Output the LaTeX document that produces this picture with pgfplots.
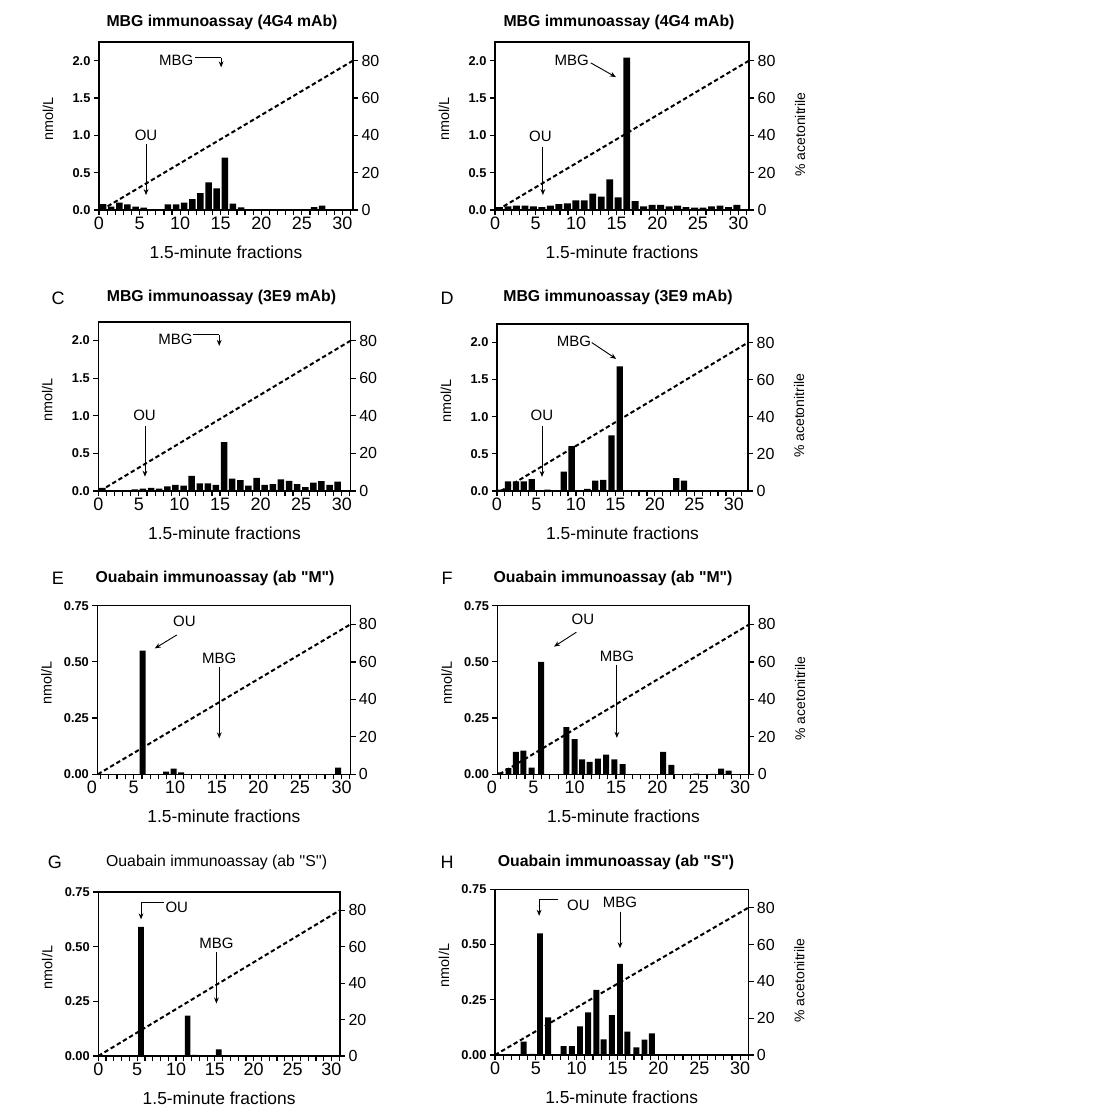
\documentclass[border=0pt]{standalone}
\usepackage{fontspec}
\setmainfont{Liberation Sans}
\newfontfamily\qfont{Liberation Sans}
\usepackage{pgfplots}
\pgfplotsset{compat=1.18}
\usetikzlibrary{arrows.meta}
\newcommand{\fs}[1]{\fontsize{#1}{#1}\selectfont}
\pgfplotsset{
  common/.style={scale only axis, clip=false,
     axis line style={line width=0.75pt, black},
     tick style={line width=0.6pt, black},
     /pgf/number format/assume math mode=true},
  leftax/.style={common, ymin=0,
     xtick={0,5,...,30}, minor xtick={0,1,...,31},
     xtick pos=bottom, ytick pos=left, tick align=outside,
     major tick length=2.6pt, minor tick length=2.6pt,
     xticklabel style={font=\fs{9}, inner sep=0.6pt},
     yticklabel style={font=\fs{6.4}\bfseries, inner sep=1.5pt},
     xlabel={1.5-minute fractions}, ylabel={nmol/L},
     xlabel style={font=\fs{8.7}, at={(axis description cs:0.5,0)}, anchor=center, yshift=-21pt},
     ylabel style={font=\fs{7.2}, at={(axis description cs:0,0.54)}, anchor=center, yshift=25.5pt},
  },
  topax/.style={leftax, ymax=2.25, ytick={0,0.5,1,1.5,2},
     yticklabel style={/pgf/number format/fixed, /pgf/number format/fixed zerofill, /pgf/number format/precision=1}},
  botax/.style={leftax, ymax=0.75, ytick={0,0.25,0.5,0.75},
     yticklabel style={/pgf/number format/fixed, /pgf/number format/fixed zerofill, /pgf/number format/precision=2}},
  rightax/.style={common, ymin=0, ymax=90, axis x line=none, axis y line*=right,
     ytick={0,20,40,60,80}, ytick pos=right, yticklabel pos=right, tick align=outside,
     major tick length=2.6pt,
     yticklabel style={font=\fs{8}, inner sep=1.5pt},
     ylabel style={font=\fs{7}, at={(axis description cs:1,0.45)}, anchor=center, yshift=-25.5pt},
  },
  pos/.style n args={4}{at={(#1pt,#2pt)}, anchor=south west, width=#3pt, height=#4pt},
  bars/.style={ybar, bar width=#1, fill=black, draw=none},
  acn/.style={black, line width=1pt, dash pattern=on 2.2pt off 1.4pt},
}
\tikzset{annot/.style={font=\fs{7.5}, inner sep=0pt}, ttl/.style={font=\fs{7.9}\bfseries}, lett/.style={font=\fs{9}},
  ann/.style={line width=0.45pt, black},
  arr/.style={line width=0.45pt, black, -{Stealth[length=3pt,width=2.4pt]}},
  zerolab/.style={font=\fs{9}, anchor=north, inner sep=0.6pt}}
\begin{document}
\begin{tikzpicture}
\useasboundingbox (0,0) rectangle (550pt,559.5pt);

% ---------- Panel A ----------
\begin{axis}[topax, pos={49.5}{454.5}{127}{84}, xmin=0, xmax=31.3]
\addplot[bars=0.8] coordinates {(0.5,0.08)(1.5,0.045)(2.5,0.10)(3.5,0.075)(4.5,0.045)(5.5,0.03)(8.5,0.075)(9.5,0.075)(10.5,0.10)(11.5,0.145)(12.5,0.225)(13.5,0.37)(14.5,0.29)(15.5,0.70)(16.5,0.085)(17.5,0.035)(26.5,0.04)(27.5,0.06)(29.5,0.01)};
\node[annot] at (axis cs:9.5,2.0) {MBG};
\draw[ann] (axis cs:11.8,2.04) -- (axis cs:15.05,2.04);
\draw[arr] (axis cs:15.05,2.04) -- (axis cs:15.05,1.91);
\node[annot] at (axis cs:5.8,1.0) {OU};
\draw[arr] (axis cs:5.8,0.88) -- (axis cs:5.8,0.2);
\end{axis}
\begin{axis}[rightax, pos={49.5}{454.5}{127}{84}, xmin=0, xmax=31.3]
\addplot[acn] coordinates {(0.3,0) (31.3,80)};
\end{axis}
\node[ttl] at (111pt,548.5pt) {MBG immunoassay (4G4 mAb)};

% ---------- Panel B ----------
\begin{axis}[topax, pos={247.5}{454.5}{127}{84}, xmin=0, xmax=31.3]
\addplot[bars=0.85] coordinates {(0.55,0.04)(1.60,0.05)(2.64,0.06)(3.69,0.06)(4.73,0.05)(5.78,0.04)(6.82,0.06)(7.87,0.08)(8.91,0.09)(9.96,0.13)(11.00,0.13)(12.05,0.22)(13.09,0.18)(14.14,0.41)(15.18,0.17)(16.23,2.04)(17.27,0.12)(18.32,0.05)(19.36,0.07)(20.41,0.07)(21.45,0.05)(22.50,0.06)(23.54,0.04)(24.59,0.03)(25.63,0.03)(26.68,0.05)(27.72,0.06)(28.77,0.04)(29.81,0.07)};
\node[annot] at (axis cs:9.45,2.0) {MBG};
\draw[arr] (axis cs:11.8,1.97) -- (axis cs:14.9,1.78);
\node[annot] at (axis cs:5.6,0.98) {OU};
\draw[arr] (axis cs:5.9,0.85) -- (axis cs:5.9,0.2);
\end{axis}
\begin{axis}[rightax, pos={247.5}{454.5}{127}{84}, xmin=0, xmax=31.3, ylabel={\% acetonitrile}]
\addplot[acn] coordinates {(0.3,0) (31.3,80)};
\end{axis}
\node[ttl] at (309.5pt,548.5pt) {MBG immunoassay (4G4 mAb)};

% ---------- Panel C ----------
\begin{axis}[topax, pos={49.15}{314}{126.2}{84.6}, xmin=0, xmax=31.1]
\addplot[bars=0.8] coordinates {(0.5,0.04)(4.5,0.02)(5.5,0.03)(6.5,0.04)(7.5,0.03)(8.5,0.06)(9.5,0.08)(10.5,0.07)(11.5,0.20)(12.5,0.10)(13.5,0.10)(14.5,0.08)(15.5,0.65)(16.5,0.165)(17.5,0.145)(18.5,0.07)(19.5,0.175)(20.5,0.08)(21.5,0.09)(22.5,0.155)(23.5,0.135)(24.5,0.09)(25.5,0.05)(26.5,0.11)(27.5,0.13)(28.5,0.08)(29.5,0.125)};
\node[annot] at (axis cs:9.5,2.01) {MBG};
\draw[ann] (axis cs:11.7,2.08) -- (axis cs:14.9,2.08);
\draw[arr] (axis cs:14.9,2.08) -- (axis cs:14.9,1.93);
\node[annot] at (axis cs:5.7,1.01) {OU};
\draw[arr] (axis cs:5.75,0.86) -- (axis cs:5.75,0.19);
\end{axis}
\begin{axis}[rightax, pos={49.15}{314}{126.2}{84.6}, xmin=0, xmax=31.1]
\addplot[acn] coordinates {(0.2,0) (31.1,80)};
\end{axis}
\node[lett] at (29pt,410.5pt) {C};
\node[ttl] at (110.75pt,411pt) {MBG immunoassay (3E9 mAb)};

% ---------- Panel D ----------
\begin{axis}[topax, pos={248.5}{314}{125.5}{83.5}, xmin=0, xmax=31.8]
\addplot[bars=0.8] coordinates {(0.35,0.02)(1.4,0.13)(2.4,0.13)(3.4,0.13)(4.4,0.16)(6.4,0.02)(8.45,0.26)(9.45,0.605)(11.45,0.03)(12.45,0.14)(13.45,0.15)(14.5,0.75)(15.55,1.68)(22.7,0.175)(23.7,0.14)};
\node[annot] at (axis cs:9.75,2.02) {MBG};
\draw[arr] (axis cs:12.0,2.0) -- (axis cs:15.1,1.78);
\node[annot] at (axis cs:5.7,1.02) {OU};
\draw[arr] (axis cs:5.7,0.87) -- (axis cs:5.7,0.19);
\end{axis}
\begin{axis}[rightax, pos={248.5}{314}{125.5}{83.5}, xmin=0, xmax=31.8, ylabel={\% acetonitrile}]
\addplot[acn] coordinates {(0.5,0) (31.8,80)};
\end{axis}
\node[lett] at (223.5pt,410.5pt) {D};
\node[ttl] at (309pt,411pt) {MBG immunoassay (3E9 mAb)};

% ---------- Panel E ----------
\begin{axis}[botax, pos={48.7}{172.35}{126.45}{84.3}, xmin=0.65, xmax=31.05]
\addplot[bars=0.72] coordinates {(6.1,0.55)(8.9,0.012)(9.8,0.025)(10.7,0.008)(29.6,0.03)};
\node[annot] at (axis cs:11.1,0.679) {OU};
\draw[arr] (axis cs:10.2,0.62) -- (axis cs:7.55,0.56);
\node[annot] at (axis cs:15.3,0.516) {MBG};
\draw[arr] (axis cs:15.3,0.479) -- (axis cs:15.3,0.16);
\node[zerolab] at ([yshift=-2.6pt]axis cs:0,0) {0};
\end{axis}
\begin{axis}[rightax, pos={48.7}{172.35}{126.45}{84.3}, xmin=0.65, xmax=31.05]
\addplot[acn] coordinates {(0.7,0) (31.05,80)};
\end{axis}
\node[lett] at (29pt,270.5pt) {E};
\node[ttl] at (107.5pt,270.5pt) {\qfont Ouabain immunoassay (ab "M")};

% ---------- Panel F ----------
\begin{axis}[botax, pos={248.8}{172.35}{125.8}{84.3}, xmin=0.68, xmax=31.1]
\addplot[bars=0.72] coordinates {(1.0,0.008)(2.0,0.028)(2.9,0.10)(3.8,0.105)(4.8,0.03)(5.95,0.50)(9.0,0.21)(10.0,0.157)(10.9,0.066)(11.8,0.055)(12.8,0.07)(13.8,0.088)(14.8,0.066)(15.8,0.045)(20.7,0.10)(21.7,0.042)(24.7,0.003)(26.7,0.002)(27.7,0.025)(28.6,0.016)};
\node[annot] at (axis cs:11.0,0.688) {OU};
\draw[arr] (axis cs:10.2,0.632) -- (axis cs:7.5,0.568);
\node[annot] at (axis cs:15.1,0.523) {MBG};
\draw[arr] (axis cs:15.1,0.485) -- (axis cs:15.1,0.162);
\node[zerolab] at ([yshift=-2.6pt]axis cs:0,0) {0};
\end{axis}
\begin{axis}[rightax, pos={248.8}{172.35}{125.8}{84.3}, xmin=0.68, xmax=31.1, ylabel={\% acetonitrile}]
\addplot[acn] coordinates {(0.9,0) (31.1,80)};
\end{axis}
\node[lett] at (223.5pt,270.5pt) {F};
\node[ttl] at (306.5pt,270.5pt) {\qfont Ouabain immunoassay (ab "M")};

% ---------- Panel G ----------
\begin{axis}[botax, pos={49.15}{31.5}{120.85}{82}, xmin=0, xmax=31.1]
\addplot[bars=0.72] coordinates {(5.5,0.59)(11.5,0.185)(12.4,0.005)(15.5,0.03)};
\draw[ann] (axis cs:8.4,0.70) -- (axis cs:5.5,0.70);
\draw[arr] (axis cs:5.5,0.70) -- (axis cs:5.5,0.625);
\node[annot] at (axis cs:10.1,0.68) {OU};
\node[annot] at (axis cs:15.2,0.514) {MBG};
\draw[arr] (axis cs:15.2,0.476) -- (axis cs:15.2,0.24);
\end{axis}
\begin{axis}[rightax, pos={49.15}{31.5}{120.85}{82}, xmin=0, xmax=31.1]
\addplot[acn] coordinates {(0,0) (31.1,80)};
\end{axis}
\node[lett] at (27.5pt,128.5pt) {G};
\node[font=\fs{7.9}] at (108.35pt,128.5pt) {\qfont Ouabain immunoassay (ab ''S'')};

% ---------- Panel H ----------
\begin{axis}[botax, pos={247.5}{32}{126.65}{82.85}, xmin=0, xmax=31.0]
\addplot[bars=0.72] coordinates {(3.5,0.06)(4.5,0.005)(5.5,0.55)(6.5,0.17)(8.4,0.04)(9.4,0.04)(10.4,0.13)(11.4,0.193)(12.4,0.295)(13.3,0.071)(14.3,0.181)(15.3,0.412)(16.2,0.106)(17.3,0.035)(18.3,0.07)(19.2,0.098)};
\draw[ann] (axis cs:7.75,0.706) -- (axis cs:5.4,0.706);
\draw[arr] (axis cs:5.4,0.706) -- (axis cs:5.4,0.63);
\node[annot] at (axis cs:10.2,0.679) {OU};
\node[annot] at (axis cs:15.3,0.69) {MBG};
\draw[arr] (axis cs:15.3,0.649) -- (axis cs:15.3,0.483);
\end{axis}
\begin{axis}[rightax, pos={247.5}{32}{126.65}{82.85}, xmin=0, xmax=31.0, ylabel={\% acetonitrile}]
\addplot[acn] coordinates {(0,0) (31.0,80)};
\end{axis}
\node[lett] at (223.5pt,128.5pt) {H};
\node[ttl] at (308pt,128.5pt) {\qfont Ouabain immunoassay (ab "S")};
\end{tikzpicture}
\end{document}
